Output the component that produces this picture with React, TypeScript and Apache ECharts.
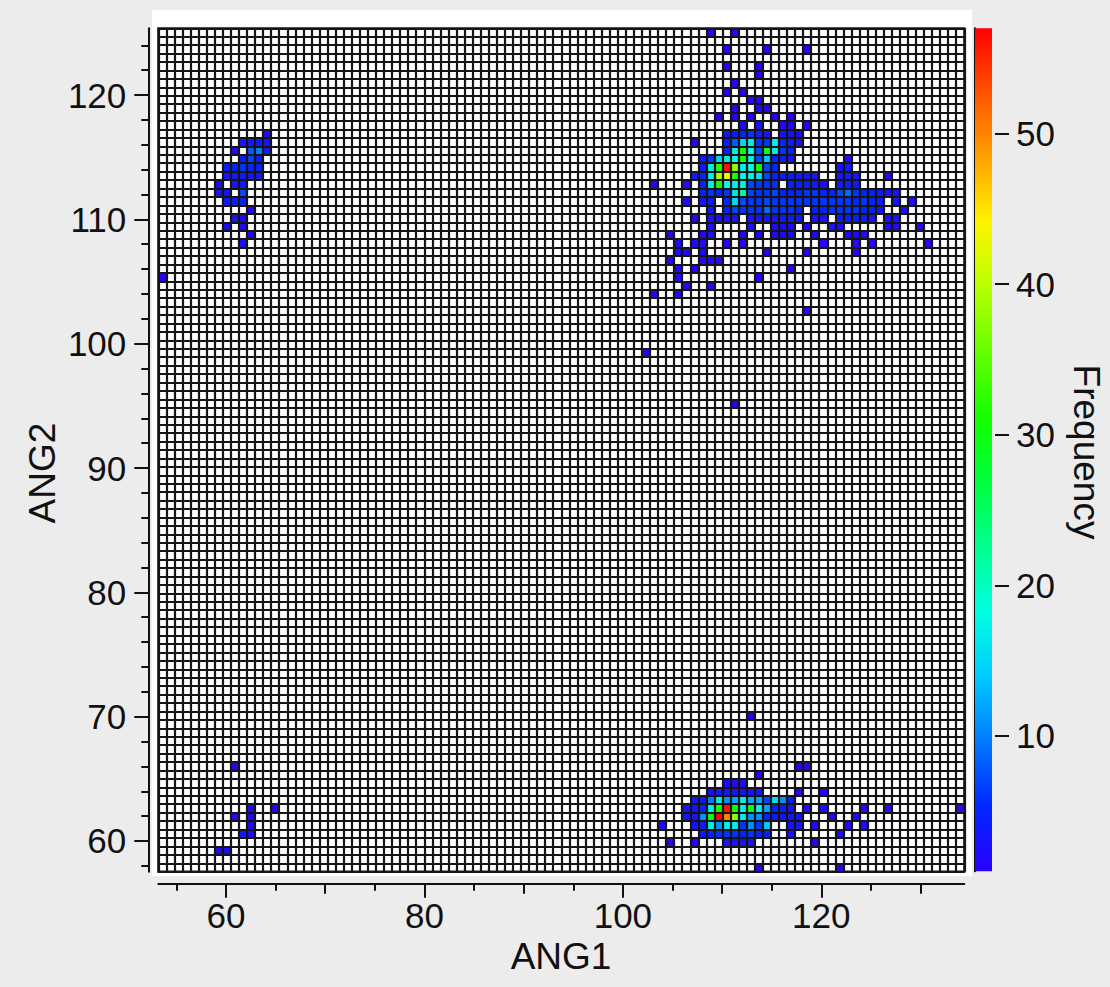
import { useEffect, useRef } from "react";
import * as echarts from "echarts";

// ---------- axis ranges & binning ----------
const N_BINS_ANG1 = 100;
const N_BINS_ANG2 = 100;
const ANG1_MIN = 53.18;
const ANG1_MAX = 134.41;
const ANG2_MIN = 57.53;
const ANG2_MAX = 125.37;
const FREQ_MIN = 1;
const FREQ_MAX = 57;

// ---------- ticks ----------
const ANG1_TICKS_MINOR = [55, 60, 65, 70, 75, 80, 85, 90, 95, 100, 105, 110, 115, 120, 125, 130];
const ANG1_TICKS_MID = [70, 90, 110, 130];
const ANG1_LABELS = [60, 80, 100, 120];
const ANG2_TICKS_MINOR = [58, 60, 62, 64, 66, 68, 70, 72, 74, 76, 78, 80, 82, 84, 86, 88, 90, 92, 94, 96, 98, 100, 102, 104, 106, 108, 110, 112, 114, 116, 118, 120, 122, 124];
const ANG2_LABELS = [60, 70, 80, 90, 100, 110, 120];
const FREQ_TICKS_MINOR = [2, 4, 6, 8, 10, 12, 14, 16, 18, 20, 22, 24, 26, 28, 30, 32, 34, 36, 38, 40, 42, 44, 46, 48, 50, 52, 54, 56];
const FREQ_LABELS = [10, 20, 30, 40, 50];

// ---------- colour scale (low -> high) ----------
const COLOR_STOPS = ["#2a00ff", "#0027ff", "#0079ff", "#00cbff", "#00ffe1", "#00ff90", "#00ff3e", "#14ff00", "#65ff00", "#b7ff00", "#fff500", "#ffa300", "#ff5200", "#ff0000"];

// ---------- data: [ANG1 bin (0 = left), ANG2 bin counted from top (0 = top), frequency] ----------
const upperRightCluster = [
  [68, 0, 1], [71, 0, 1],
  [70, 2, 1], [75, 2, 1], [80, 2, 1],
  [70, 4, 1], [74, 4, 1],
  [74, 5, 1],
  [71, 6, 1],
  [70, 7, 1], [72, 7, 1],
  [73, 8, 2], [74, 8, 1],
  [71, 9, 1], [74, 9, 2], [75, 9, 1],
  [69, 10, 1], [71, 10, 1], [73, 10, 1], [76, 10, 1], [78, 10, 1],
  [72, 11, 2], [74, 11, 3], [77, 11, 2], [78, 11, 2], [80, 11, 1],
  [70, 12, 3], [71, 12, 4], [72, 12, 5], [73, 12, 6], [74, 12, 4], [75, 12, 3], [77, 12, 3], [78, 12, 3], [79, 12, 2],
  [66, 13, 1], [70, 13, 4], [71, 13, 8], [72, 13, 15], [73, 13, 17], [74, 13, 6], [75, 13, 6], [76, 13, 17], [77, 13, 5], [78, 13, 4], [79, 13, 3],
  [70, 14, 5], [71, 14, 17], [72, 14, 30], [73, 14, 18], [74, 14, 7], [75, 14, 29], [76, 14, 17], [77, 14, 6], [78, 14, 5],
  [67, 15, 4], [68, 15, 6], [69, 15, 15], [70, 15, 17], [71, 15, 18], [72, 15, 31], [73, 15, 17], [74, 15, 7], [75, 15, 14], [76, 15, 5], [77, 15, 4], [78, 15, 3], [85, 15, 2],
  [67, 16, 4], [68, 16, 17], [69, 16, 32], [70, 16, 56], [71, 16, 38], [72, 16, 17], [73, 16, 18], [74, 16, 30], [75, 16, 7], [76, 16, 5], [84, 16, 3], [85, 16, 4],
  [66, 17, 4], [67, 17, 5], [68, 17, 17], [69, 17, 39], [70, 17, 44], [71, 17, 31], [72, 17, 18], [73, 17, 17], [74, 17, 16], [75, 17, 7], [76, 17, 5], [77, 17, 4], [78, 17, 4], [79, 17, 4], [80, 17, 3], [81, 17, 3], [84, 17, 3], [85, 17, 4], [86, 17, 3], [90, 17, 2],
  [61, 18, 1], [65, 18, 2], [67, 18, 5], [68, 18, 17], [69, 18, 31], [70, 18, 18], [71, 18, 17], [72, 18, 17], [73, 18, 7], [74, 18, 6], [75, 18, 6], [76, 18, 6], [78, 18, 5], [79, 18, 5], [80, 18, 4], [81, 18, 4], [82, 18, 2], [84, 18, 4], [85, 18, 4], [86, 18, 3],
  [67, 19, 5], [68, 19, 6], [69, 19, 5], [70, 19, 6], [71, 19, 16], [72, 19, 22], [73, 19, 7], [74, 19, 6], [75, 19, 6], [76, 19, 7], [77, 19, 5], [78, 19, 5], [79, 19, 5], [80, 19, 6], [81, 19, 6], [82, 19, 5], [83, 19, 5], [84, 19, 7], [85, 19, 9], [86, 19, 6], [87, 19, 5], [88, 19, 5], [89, 19, 4], [90, 19, 3], [91, 19, 3],
  [65, 20, 2], [67, 20, 3], [68, 20, 4], [70, 20, 5], [71, 20, 15], [72, 20, 7], [73, 20, 6], [74, 20, 6], [75, 20, 7], [76, 20, 6], [77, 20, 6], [78, 20, 6], [79, 20, 6], [80, 20, 6], [81, 20, 6], [82, 20, 6], [83, 20, 6], [84, 20, 6], [85, 20, 6], [86, 20, 5], [87, 20, 6], [88, 20, 5], [89, 20, 4], [91, 20, 3], [93, 20, 2],
  [68, 21, 3], [70, 21, 5], [71, 21, 7], [72, 21, 6], [73, 21, 6], [74, 21, 6], [75, 21, 9], [76, 21, 6], [77, 21, 6], [78, 21, 6], [79, 21, 5], [81, 21, 5], [82, 21, 5], [83, 21, 6], [84, 21, 6], [85, 21, 6], [86, 21, 6], [87, 21, 5], [88, 21, 5], [89, 21, 3], [92, 21, 2],
  [66, 22, 2], [68, 22, 3], [69, 22, 3], [70, 22, 3], [71, 22, 3], [73, 22, 3], [74, 22, 3], [75, 22, 3], [76, 22, 3], [77, 22, 4], [78, 22, 4], [79, 22, 4], [81, 22, 3], [82, 22, 3], [84, 22, 4], [85, 22, 4], [86, 22, 4], [87, 22, 4], [88, 22, 3], [90, 22, 3], [91, 22, 3],
  [68, 23, 3], [73, 23, 3], [76, 23, 2], [77, 23, 2], [78, 23, 2], [80, 23, 2], [83, 23, 3], [84, 23, 2], [90, 23, 2], [91, 23, 2], [94, 23, 1],
  [63, 24, 1], [67, 24, 2], [68, 24, 3], [72, 24, 2], [74, 24, 2], [76, 24, 2], [77, 24, 2], [78, 24, 2], [81, 24, 2], [85, 24, 2], [86, 24, 2], [87, 24, 2],
  [64, 25, 2], [66, 25, 2], [67, 25, 2], [70, 25, 1], [72, 25, 1], [82, 25, 1], [86, 25, 1], [88, 25, 1], [95, 25, 1],
  [64, 26, 2], [65, 26, 2], [67, 26, 2], [75, 26, 1], [80, 26, 1], [86, 26, 1],
  [63, 27, 2], [67, 27, 2], [68, 27, 2], [69, 27, 2],
  [64, 28, 2], [66, 28, 1], [78, 28, 1],
  [64, 29, 2], [74, 29, 1],
  [65, 30, 2], [68, 30, 1],
  [61, 31, 1], [64, 31, 2],
  [80, 33, 1],
];

const upperLeftCluster = [
  [13, 12, 2],
  [10, 13, 3], [11, 13, 4], [12, 13, 4], [13, 13, 3],
  [9, 14, 2], [11, 14, 8], [12, 14, 10], [13, 14, 4],
  [10, 15, 4], [11, 15, 7], [12, 15, 4],
  [8, 16, 4], [9, 16, 5], [10, 16, 6], [11, 16, 5], [12, 16, 5],
  [8, 17, 3], [9, 17, 4], [10, 17, 4], [11, 17, 3], [12, 17, 3],
  [7, 18, 2], [9, 18, 3], [10, 18, 4],
  [7, 19, 3], [8, 19, 3], [10, 19, 7],
  [8, 20, 4], [9, 20, 4], [10, 20, 4],
  [11, 21, 2],
  [9, 22, 3], [10, 22, 2],
  [8, 23, 2], [10, 23, 2],
  [11, 24, 2],
  [10, 25, 2],
];

const lowerRightCluster = [
  [73, 81, 1],
  [79, 87, 1], [80, 87, 1],
  [74, 88, 1],
  [70, 89, 2], [71, 89, 2], [72, 89, 2],
  [68, 90, 2], [69, 90, 3], [70, 90, 3], [71, 90, 3], [72, 90, 3], [73, 90, 3], [74, 90, 3], [79, 90, 1], [82, 90, 1],
  [66, 91, 3], [67, 91, 3], [68, 91, 10], [69, 91, 17], [70, 91, 11], [71, 91, 12], [72, 91, 17], [73, 91, 12], [74, 91, 12], [75, 91, 7], [76, 91, 16], [77, 91, 11], [78, 91, 4],
  [65, 92, 3], [66, 92, 3], [67, 92, 5], [68, 92, 17], [69, 92, 31], [70, 92, 56], [71, 92, 31], [72, 92, 17], [73, 92, 30], [74, 92, 17], [75, 92, 12], [76, 92, 5], [77, 92, 4], [78, 92, 3], [80, 92, 2], [82, 92, 2], [87, 92, 2], [90, 92, 2], [99, 92, 2],
  [65, 93, 3], [66, 93, 3], [67, 93, 11], [68, 93, 30], [69, 93, 57], [70, 93, 50], [71, 93, 38], [72, 93, 17], [73, 93, 11], [74, 93, 11], [75, 93, 5], [76, 93, 4], [77, 93, 3], [78, 93, 3], [79, 93, 3], [83, 93, 1], [86, 93, 2],
  [62, 94, 2], [66, 94, 3], [67, 94, 4], [68, 94, 17], [69, 94, 11], [70, 94, 17], [71, 94, 17], [72, 94, 6], [73, 94, 11], [74, 94, 6], [75, 94, 14], [78, 94, 3], [79, 94, 3], [81, 94, 2], [85, 94, 2], [87, 94, 2],
  [67, 95, 4], [68, 95, 5], [69, 95, 6], [70, 95, 6], [71, 95, 6], [72, 95, 5], [73, 95, 6], [74, 95, 5], [75, 95, 4], [78, 95, 3], [84, 95, 2],
  [63, 96, 2], [66, 96, 1], [70, 96, 3], [71, 96, 3], [72, 96, 3], [73, 96, 3], [81, 96, 1],
  [74, 99, 1], [84, 99, 1],
];

const lowerLeftCluster = [
  [9, 87, 1],
  [11, 92, 2], [14, 92, 1],
  [9, 93, 2], [11, 93, 2],
  [11, 94, 2],
  [10, 95, 3], [11, 95, 2],
  [7, 97, 2], [8, 97, 2],
];

const isolatedCells = [
  [0, 29, 1],
  [60, 38, 1],
  [71, 44, 1],
];

const FONT = "'Liberation Sans', Arial, Helvetica, sans-serif";
const INK = "#111111";

export default function App() {
  const ref = useRef<HTMLDivElement>(null);

  useEffect(() => {
    if (!ref.current) return;
    const chart = echarts.init(ref.current, undefined, { renderer: "svg" });

    const ang1Bins = Array.from({ length: N_BINS_ANG1 }, (_, i) => String(i));
    const ang2Bins = Array.from({ length: N_BINS_ANG2 }, (_, i) => String(i));
    const all = [...upperRightCluster, ...upperLeftCluster, ...lowerRightCluster, ...lowerLeftCluster, ...isolatedCells];
    const heatData = all.map(([c, r, f]) => [c, N_BINS_ANG2 - 1 - r, f]);

    const gridLine = { show: true, interval: 0, lineStyle: { color: "#141414", width: 2.2 } };
    const axisInk = { color: INK, width: 2 };
    const labelStyle = { color: INK, fontSize: 35, fontFamily: FONT };

    const gradient = new echarts.graphic.LinearGradient(
      0, 1, 0, 0,
      COLOR_STOPS.map((c, i) => ({ offset: i / (COLOR_STOPS.length - 1), color: c }))
    );

    const option: any = {
      animation: false,
      backgroundColor: "#ececec",
      graphic: [
        { type: "rect", z: -10, shape: { x: 152, y: 10, width: 820, height: 866 }, style: { fill: "#ffffff" }, silent: true },
        { type: "text", x: 561, y: 956, style: { text: "ANG1", font: `37px ${FONT}`, fill: INK, textAlign: "center", textVerticalAlign: "middle" } },
        { type: "text", x: 42, y: 473, rotation: Math.PI / 2, style: { text: "ANG2", font: `37px ${FONT}`, fill: INK, textAlign: "center", textVerticalAlign: "middle" } },
        { type: "text", x: 1086, y: 452, rotation: -Math.PI / 2, style: { text: "Frequency", font: `37px ${FONT}`, fill: INK, textAlign: "center", textVerticalAlign: "middle" } },
      ],
      grid: [
        { left: 158.3, top: 28.3, width: 806, height: 843.4, show: true, backgroundColor: "#ffffff", borderColor: "#141414", borderWidth: 2.2 },
        { left: 975, top: 28.3, width: 17, height: 843 },
      ],
      visualMap: {
        show: false, type: "continuous", min: FREQ_MIN, max: FREQ_MAX, dimension: 2, seriesIndex: 0,
        inRange: { color: COLOR_STOPS },
      },
      xAxis: [
        { gridIndex: 0, type: "category", data: ang1Bins, boundaryGap: true, z: 10, axisLine: { show: false }, axisTick: { show: false }, axisLabel: { show: false }, splitLine: gridLine },
        { gridIndex: 0, type: "value", min: ANG1_MIN, max: ANG1_MAX, position: "bottom", offset: 12, axisLine: { show: true, lineStyle: axisInk }, axisTick: { show: true, length: 7, lineStyle: axisInk, customValues: ANG1_TICKS_MINOR }, axisLabel: { show: false }, splitLine: { show: false } },
        { gridIndex: 0, type: "value", min: ANG1_MIN, max: ANG1_MAX, position: "bottom", offset: 12, axisLine: { show: false }, axisTick: { show: true, length: 10, lineStyle: axisInk, customValues: ANG1_TICKS_MID }, axisLabel: { show: false }, splitLine: { show: false } },
        { gridIndex: 0, type: "value", min: ANG1_MIN, max: ANG1_MAX, position: "bottom", offset: 12, axisLine: { show: false }, axisTick: { show: true, length: 14, lineStyle: axisInk, customValues: ANG1_LABELS }, axisLabel: { show: true, ...labelStyle, margin: 14, customValues: ANG1_LABELS }, splitLine: { show: false } },
        { gridIndex: 1, type: "value", min: 0, max: 1, show: false },
      ],
      yAxis: [
        { gridIndex: 0, type: "category", data: ang2Bins, boundaryGap: true, z: 10, axisLine: { show: false }, axisTick: { show: false }, axisLabel: { show: false }, splitLine: gridLine },
        { gridIndex: 0, type: "value", min: ANG2_MIN, max: ANG2_MAX, position: "left", offset: 10, axisLine: { show: true, lineStyle: axisInk }, axisTick: { show: true, length: 7, lineStyle: axisInk, customValues: ANG2_TICKS_MINOR }, axisLabel: { show: false }, splitLine: { show: false } },
        { gridIndex: 0, type: "value", min: ANG2_MIN, max: ANG2_MAX, position: "left", offset: 10, axisLine: { show: false }, axisTick: { show: true, length: 14, lineStyle: axisInk, customValues: ANG2_LABELS }, axisLabel: { show: true, ...labelStyle, margin: 22, customValues: ANG2_LABELS }, splitLine: { show: false } },
        { gridIndex: 1, type: "value", min: FREQ_MIN, max: FREQ_MAX, position: "right", offset: 3, axisLine: { show: true, lineStyle: axisInk }, axisTick: { show: true, length: 7, lineStyle: axisInk, customValues: FREQ_TICKS_MINOR }, axisLabel: { show: false }, splitLine: { show: false } },
        { gridIndex: 1, type: "value", min: FREQ_MIN, max: FREQ_MAX, position: "right", offset: 3, axisLine: { show: false }, axisTick: { show: true, length: 14, lineStyle: axisInk, customValues: FREQ_LABELS }, axisLabel: { show: true, ...labelStyle, margin: 21, customValues: FREQ_LABELS }, splitLine: { show: false } },
      ],
      series: [
        { type: "heatmap", xAxisIndex: 0, yAxisIndex: 0, data: heatData, silent: true, itemStyle: { borderWidth: 0 } },
        {
          type: "custom", xAxisIndex: 4, yAxisIndex: 3, data: [[0, FREQ_MAX]], silent: true,
          renderItem: (_p: any, api: any) => {
            const a = api.coord([0, FREQ_MAX]);
            const b = api.coord([1, FREQ_MIN]);
            return { type: "rect", shape: { x: a[0], y: a[1], width: b[0] - a[0], height: b[1] - a[1] }, style: { fill: gradient } };
          },
        },
      ],
    };

    chart.setOption(option);
    return () => chart.dispose();
  }, []);

  return <div ref={ref} style={{ position: "fixed", left: 0, top: 0, width: 1110, height: 987 }} />;
}
